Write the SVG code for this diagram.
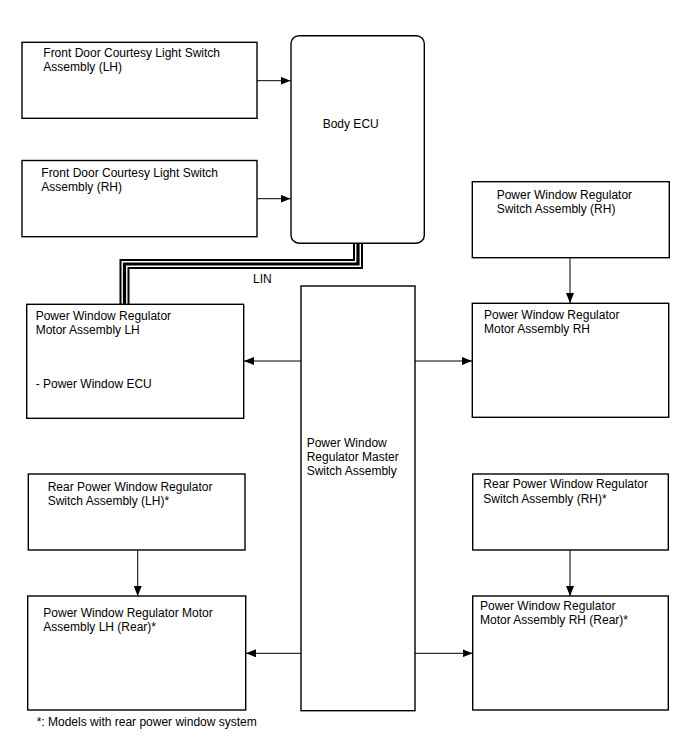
<svg xmlns="http://www.w3.org/2000/svg" width="688" height="755" viewBox="0 0 688 755">
<defs>
<style>
.box{fill:#fff;stroke:#000;stroke-width:1.4}
.t{font-family:"Liberation Sans",Arial,sans-serif;font-size:12px;fill:#000}
.c{stroke:#000;stroke-width:1;fill:none}
</style>
<marker id="ah" viewBox="0 0 10 8" refX="10" refY="4" markerWidth="10" markerHeight="8" markerUnits="userSpaceOnUse" orient="auto">
<path d="M0,0 L10,4 L0,8 Z" fill="#000"/>
</marker>
</defs>
<rect width="688" height="755" fill="#fff"/>
<g id="connectors">
<path class="c" d="M257,80.7 H290.5" marker-end="url(#ah)"/>
<path class="c" d="M257,198.7 H290.5" marker-end="url(#ah)"/>
<path d="M358,243 V264 H124.5 V304" fill="none" stroke="#000" stroke-width="10"/>
<path d="M358,243 V264 H124.5 V304" fill="none" stroke="#fff" stroke-width="6"/>
<path d="M358,243 V264 H124.5 V304" fill="none" stroke="#000" stroke-width="3.2"/>
<path class="c" d="M301,361 H244" marker-end="url(#ah)"/>
<path class="c" d="M415,361 H472" marker-end="url(#ah)"/>
<path class="c" d="M570,257.7 V303" marker-end="url(#ah)"/>
<path class="c" d="M137.7,550 V596" marker-end="url(#ah)"/>
<path class="c" d="M570,550 V596" marker-end="url(#ah)"/>
<path class="c" d="M301,653.3 H246" marker-end="url(#ah)"/>
<path class="c" d="M415,653.3 H472.5" marker-end="url(#ah)"/>
<text class="t" x="253" y="283">LIN</text>
</g>
<g id="fdcls-lh">
<rect class="box" x="22" y="42.3" width="235" height="76"/>
<text class="t" x="43.3" y="57">Front Door Courtesy Light Switch</text>
<text class="t" x="43.3" y="71">Assembly (LH)</text>
</g>
<g id="fdcls-rh">
<rect class="box" x="22" y="160.5" width="235" height="76.2"/>
<text class="t" x="41.3" y="177">Front Door Courtesy Light Switch</text>
<text class="t" x="41.3" y="191">Assembly (RH)</text>
</g>
<g id="body-ecu">
<rect class="box" x="291" y="35.7" width="133.3" height="207.5" rx="8" ry="8"/>
<text class="t" x="322.7" y="128">Body ECU</text>
</g>
<g id="pwrs-rh">
<rect class="box" x="472.3" y="181.7" width="197" height="76"/>
<text class="t" x="496.7" y="198.5">Power Window Regulator</text>
<text class="t" x="496.7" y="212.7">Switch Assembly (RH)</text>
</g>
<g id="pwrm-lh">
<rect class="box" x="26.7" y="304.3" width="217" height="114"/>
<text class="t" x="35.7" y="320">Power Window Regulator</text>
<text class="t" x="35.7" y="334.3">Motor Assembly LH</text>
<text class="t" x="35.7" y="388.3">- Power Window ECU</text>
</g>
<g id="master">
<rect class="box" x="301" y="286" width="114" height="424.7"/>
<text class="t" x="306.7" y="447.3">Power Window</text>
<text class="t" x="306.7" y="461.3">Regulator Master</text>
<text class="t" x="306.7" y="475.3">Switch Assembly</text>
</g>
<g id="pwrm-rh">
<rect class="box" x="472.3" y="303.3" width="196.4" height="114"/>
<text class="t" x="484" y="319.3">Power Window Regulator</text>
<text class="t" x="484" y="333.3">Motor Assembly RH</text>
</g>
<g id="rpwrs-lh">
<rect class="box" x="28.3" y="474" width="216.7" height="76"/>
<text class="t" x="47.7" y="490.7">Rear Power Window Regulator</text>
<text class="t" x="47.7" y="505">Switch Assembly (LH)*</text>
</g>
<g id="rpwrs-rh">
<rect class="box" x="472.7" y="474" width="195.6" height="76"/>
<text class="t" x="483.3" y="488.3">Rear Power Window Regulator</text>
<text class="t" x="483.3" y="502.7">Switch Assembly (RH)*</text>
</g>
<g id="pwrm-lh-rear">
<rect class="box" x="27.7" y="596" width="218" height="114"/>
<text class="t" x="43.3" y="616.7">Power Window Regulator Motor</text>
<text class="t" x="43.3" y="630.7">Assembly LH (Rear)*</text>
</g>
<g id="pwrm-rh-rear">
<rect class="box" x="472.7" y="596" width="195.6" height="114"/>
<text class="t" x="480" y="610">Power Window Regulator</text>
<text class="t" x="480" y="624.3">Motor Assembly RH (Rear)*</text>
</g>
<g id="footnote">
<text class="t" x="36.7" y="726">*: Models with rear power window system</text>
</g>
</svg>
